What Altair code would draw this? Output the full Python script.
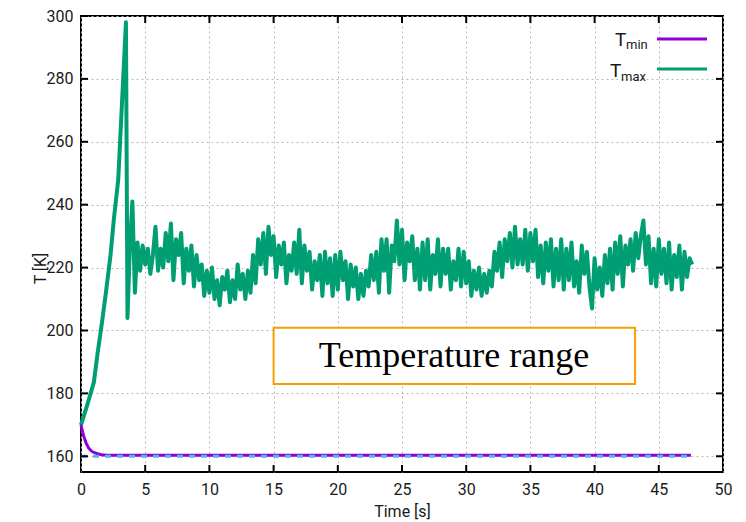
import altair as alt
import pandas as pd

# ---------------- data ----------------
X_TICKS = [0, 5, 10, 15, 20, 25, 30, 35, 40, 45, 50]
Y_TICKS = [160, 180, 200, 220, 240, 260, 280, 300]

# T_min : fast decay then flat
TMIN_T = [0, 0.2, 0.4, 0.6, 0.8, 1.0, 1.3, 1.6, 2.0, 3.0, 47.5]
TMIN_V = [170, 166.5, 164.2, 162.6, 161.7, 161.2, 160.8, 160.5, 160.35, 160.3, 160.3]

# reference level drawn in light blue under T_min
TREF_T = [0, 47.5]
TREF_V = [160, 160]

# T_max : initial ramp and spike
TMAX_RAMP_T = [0, 0.5, 1.0, 1.3, 1.65, 2.0, 2.3, 2.55, 2.9, 3.5, 3.62]
TMAX_RAMP_V = [170, 176.5, 183.5, 193, 203, 214, 224, 235, 248, 298, 204]

# T_max : fluctuating part, sampled every 0.2 s from t = 3.8 s
TMAX_NOISE_START = 3.8
TMAX_NOISE_STEP = 0.2
TMAX_NOISE_V = [
    226, 241, 212, 228, 219,
    227, 221, 226, 218, 224,
    233, 219, 226, 220, 231,
    222, 234, 216, 229, 224,
    231, 215, 226, 219, 227,
    214, 224, 216, 221, 211,
    219, 212, 220, 210, 216,
    208, 217, 213, 219, 209,
    216, 210, 221, 213, 218,
    210, 219, 212, 224, 215,
    229, 221, 231, 218, 233,
    224, 230, 217, 227, 221,
    228, 215, 224, 219, 228,
    218, 232, 215, 227, 219,
    225, 213, 222, 216, 224,
    211, 225, 215, 223, 211,
    224, 213, 225, 216, 222,
    210, 221, 214, 220, 210,
    218, 211, 219, 214, 224,
    216, 225, 212, 229, 219,
    229, 212, 227, 222, 235,
    221, 232, 216, 228, 222,
    230, 216, 226, 213, 228,
    216, 229, 213, 224, 218,
    229, 214, 226, 218, 226,
    213, 222, 216, 226, 214,
    225, 215, 222, 211, 219,
    213, 220, 211, 218, 212,
    219, 214, 225, 219, 228,
    217, 229, 222, 231, 220,
    233, 221, 229, 221, 232,
    219, 231, 222, 232, 217,
    227, 215, 228, 219, 229,
    214, 226, 216, 229, 213,
    226, 216, 228, 214, 222,
    212, 227, 218, 225, 214,
    207, 223, 213, 220, 211,
    224, 215, 226, 213, 228,
    218, 230, 214, 227, 221,
    229, 219, 231, 223, 230,
    235, 221, 230, 215, 226,
    214, 229, 218, 226, 215,
    228, 213, 224, 217, 227,
    213, 225, 217, 223, 221,
]

# annotation box (data coordinates)
BOX = {"x": 15.0, "x2": 43.15, "y": 183.0, "y2": 200.9}
BOX_TEXT = {"x": 29.05, "y": 188.4, "text": "Temperature range"}

LEGEND = [("min", "#9400d3"), ("max", "#009e73")]

# ---------------- build tables ----------------
noise_t = [round(TMAX_NOISE_START + TMAX_NOISE_STEP * i, 2) for i in range(len(TMAX_NOISE_V))]
tmax_df = pd.DataFrame({"t": TMAX_RAMP_T + noise_t, "T": TMAX_RAMP_V + TMAX_NOISE_V})
tmin_df = pd.DataFrame({"t": TMIN_T, "T": TMIN_V})
tref_df = pd.DataFrame({"t": TREF_T, "T": TREF_V})
xt_df = pd.DataFrame({"v": X_TICKS[1:-1]})
yt_df = pd.DataFrame({"v": Y_TICKS})
box_df = pd.DataFrame([BOX])
boxt_df = pd.DataFrame([BOX_TEXT])
one = pd.DataFrame({"a": [0]})

W, H = 642, 456
FONT = "Roboto"
TXT = "#1a1a1a"

xs = alt.Scale(domain=[0, 50], nice=False, zero=False)
ys = alt.Scale(domain=[155, 300], nice=False, zero=False)

x_axis = alt.Axis(values=X_TICKS, title="Time [s]", grid=True, gridDash=[2, 3],
                  gridColor="#b8b8b8", gridWidth=1, ticks=False, domain=False,
                  labelFont=FONT, labelFontSize=16, labelColor=TXT, labelPadding=9,
                  labelFlush=False, titleFont=FONT, titleFontSize=16,
                  titleFontWeight="normal", titleColor=TXT, titlePadding=6)
y_axis = alt.Axis(values=Y_TICKS, title="T [K]", grid=True, gridDash=[2, 3],
                  gridColor="#b8b8b8", gridWidth=1, ticks=False, domain=False,
                  labelFont=FONT, labelFontSize=16, labelColor=TXT, labelPadding=8,
                  labelFlush=False, titleFont=FONT, titleFontSize=16,
                  titleFontWeight="normal", titleColor=TXT,
                  titleX=-41, titleY=252, titleAlign="center", titleBaseline="middle")

base_grid = alt.Chart(tmin_df).mark_line(opacity=0).encode(
    x=alt.X("t:Q", scale=xs, axis=x_axis),
    y=alt.Y("T:Q", scale=ys, axis=y_axis),
)

box = alt.Chart(box_df).mark_rect(fill="white", stroke="#f5a000", strokeWidth=2).encode(
    x=alt.X("x:Q", scale=xs), x2="x2:Q",
    y=alt.Y("y:Q", scale=ys), y2="y2:Q",
)
box_text = alt.Chart(boxt_df).mark_text(font="Liberation Serif", fontSize=36, color="black",
                                        align="center", baseline="alphabetic").encode(
    x=alt.X("x:Q", scale=xs), y=alt.Y("y:Q", scale=ys), text="text:N")

tmax_line = alt.Chart(tmax_df).mark_line(color="#009e73", strokeWidth=4, strokeJoin="round").encode(
    x=alt.X("t:Q", scale=xs), y=alt.Y("T:Q", scale=ys))
tmin_line = alt.Chart(tmin_df).mark_line(color="#9400d3", strokeWidth=3).encode(
    x=alt.X("t:Q", scale=xs), y=alt.Y("T:Q", scale=ys))
tref_line = alt.Chart(tref_df).mark_line(color="#56b4e9", strokeWidth=3, strokeDash=[6, 6]).encode(
    x=alt.X("t:Q", scale=xs), y=alt.Y("T:Q", scale=ys))

TL = 7
tick_style = dict(color="black", strokeWidth=2)
xb = alt.Chart(xt_df).mark_rule(**tick_style).encode(
    x=alt.X("v:Q", scale=xs), y=alt.value(H), y2=alt.value(H - TL))
xtop = alt.Chart(xt_df).mark_rule(**tick_style).encode(
    x=alt.X("v:Q", scale=xs), y=alt.value(0), y2=alt.value(TL))
yl = alt.Chart(yt_df).mark_rule(**tick_style).encode(
    y=alt.Y("v:Q", scale=ys), x=alt.value(0), x2=alt.value(TL))
yr = alt.Chart(yt_df).mark_rule(**tick_style).encode(
    y=alt.Y("v:Q", scale=ys), x=alt.value(W), x2=alt.value(W - TL))

# custom legend with subscripts
legend_layers = []
LEG_POS = [  # (T x, T baseline, sub x, sub baseline, line y)
    (534, 30, 545, 32.5, 23),
    (529, 61, 540, 65, 53),
]
for (sub, col), (tx, ty, sx, sy, ly) in zip(LEGEND, LEG_POS):
    legend_layers.append(alt.Chart(one).mark_text(text="T", font=FONT, fontSize=19, color=TXT,
                                                  align="left", baseline="alphabetic").encode(
        x=alt.value(tx), y=alt.value(ty)))
    legend_layers.append(alt.Chart(one).mark_text(text=sub, font=FONT, fontSize=13, color=TXT,
                                                  align="left", baseline="alphabetic").encode(
        x=alt.value(sx), y=alt.value(sy)))
    legend_layers.append(alt.Chart(one).mark_rule(color=col, strokeWidth=3).encode(
        x=alt.value(576), x2=alt.value(626), y=alt.value(ly)))

chart = alt.layer(
    base_grid, box, box_text, tmax_line, tmin_line, tref_line,
    xb, xtop, yl, yr, *legend_layers
).properties(
    width=W, height=H,
    autosize=alt.AutoSizeParams(type="none"),
    padding={"left": 73, "top": 8, "right": 15, "bottom": 48},
).configure_view(stroke="black", strokeWidth=2)

chart.save("out.html", embed_options={"renderer": "svg", "actions": False})
